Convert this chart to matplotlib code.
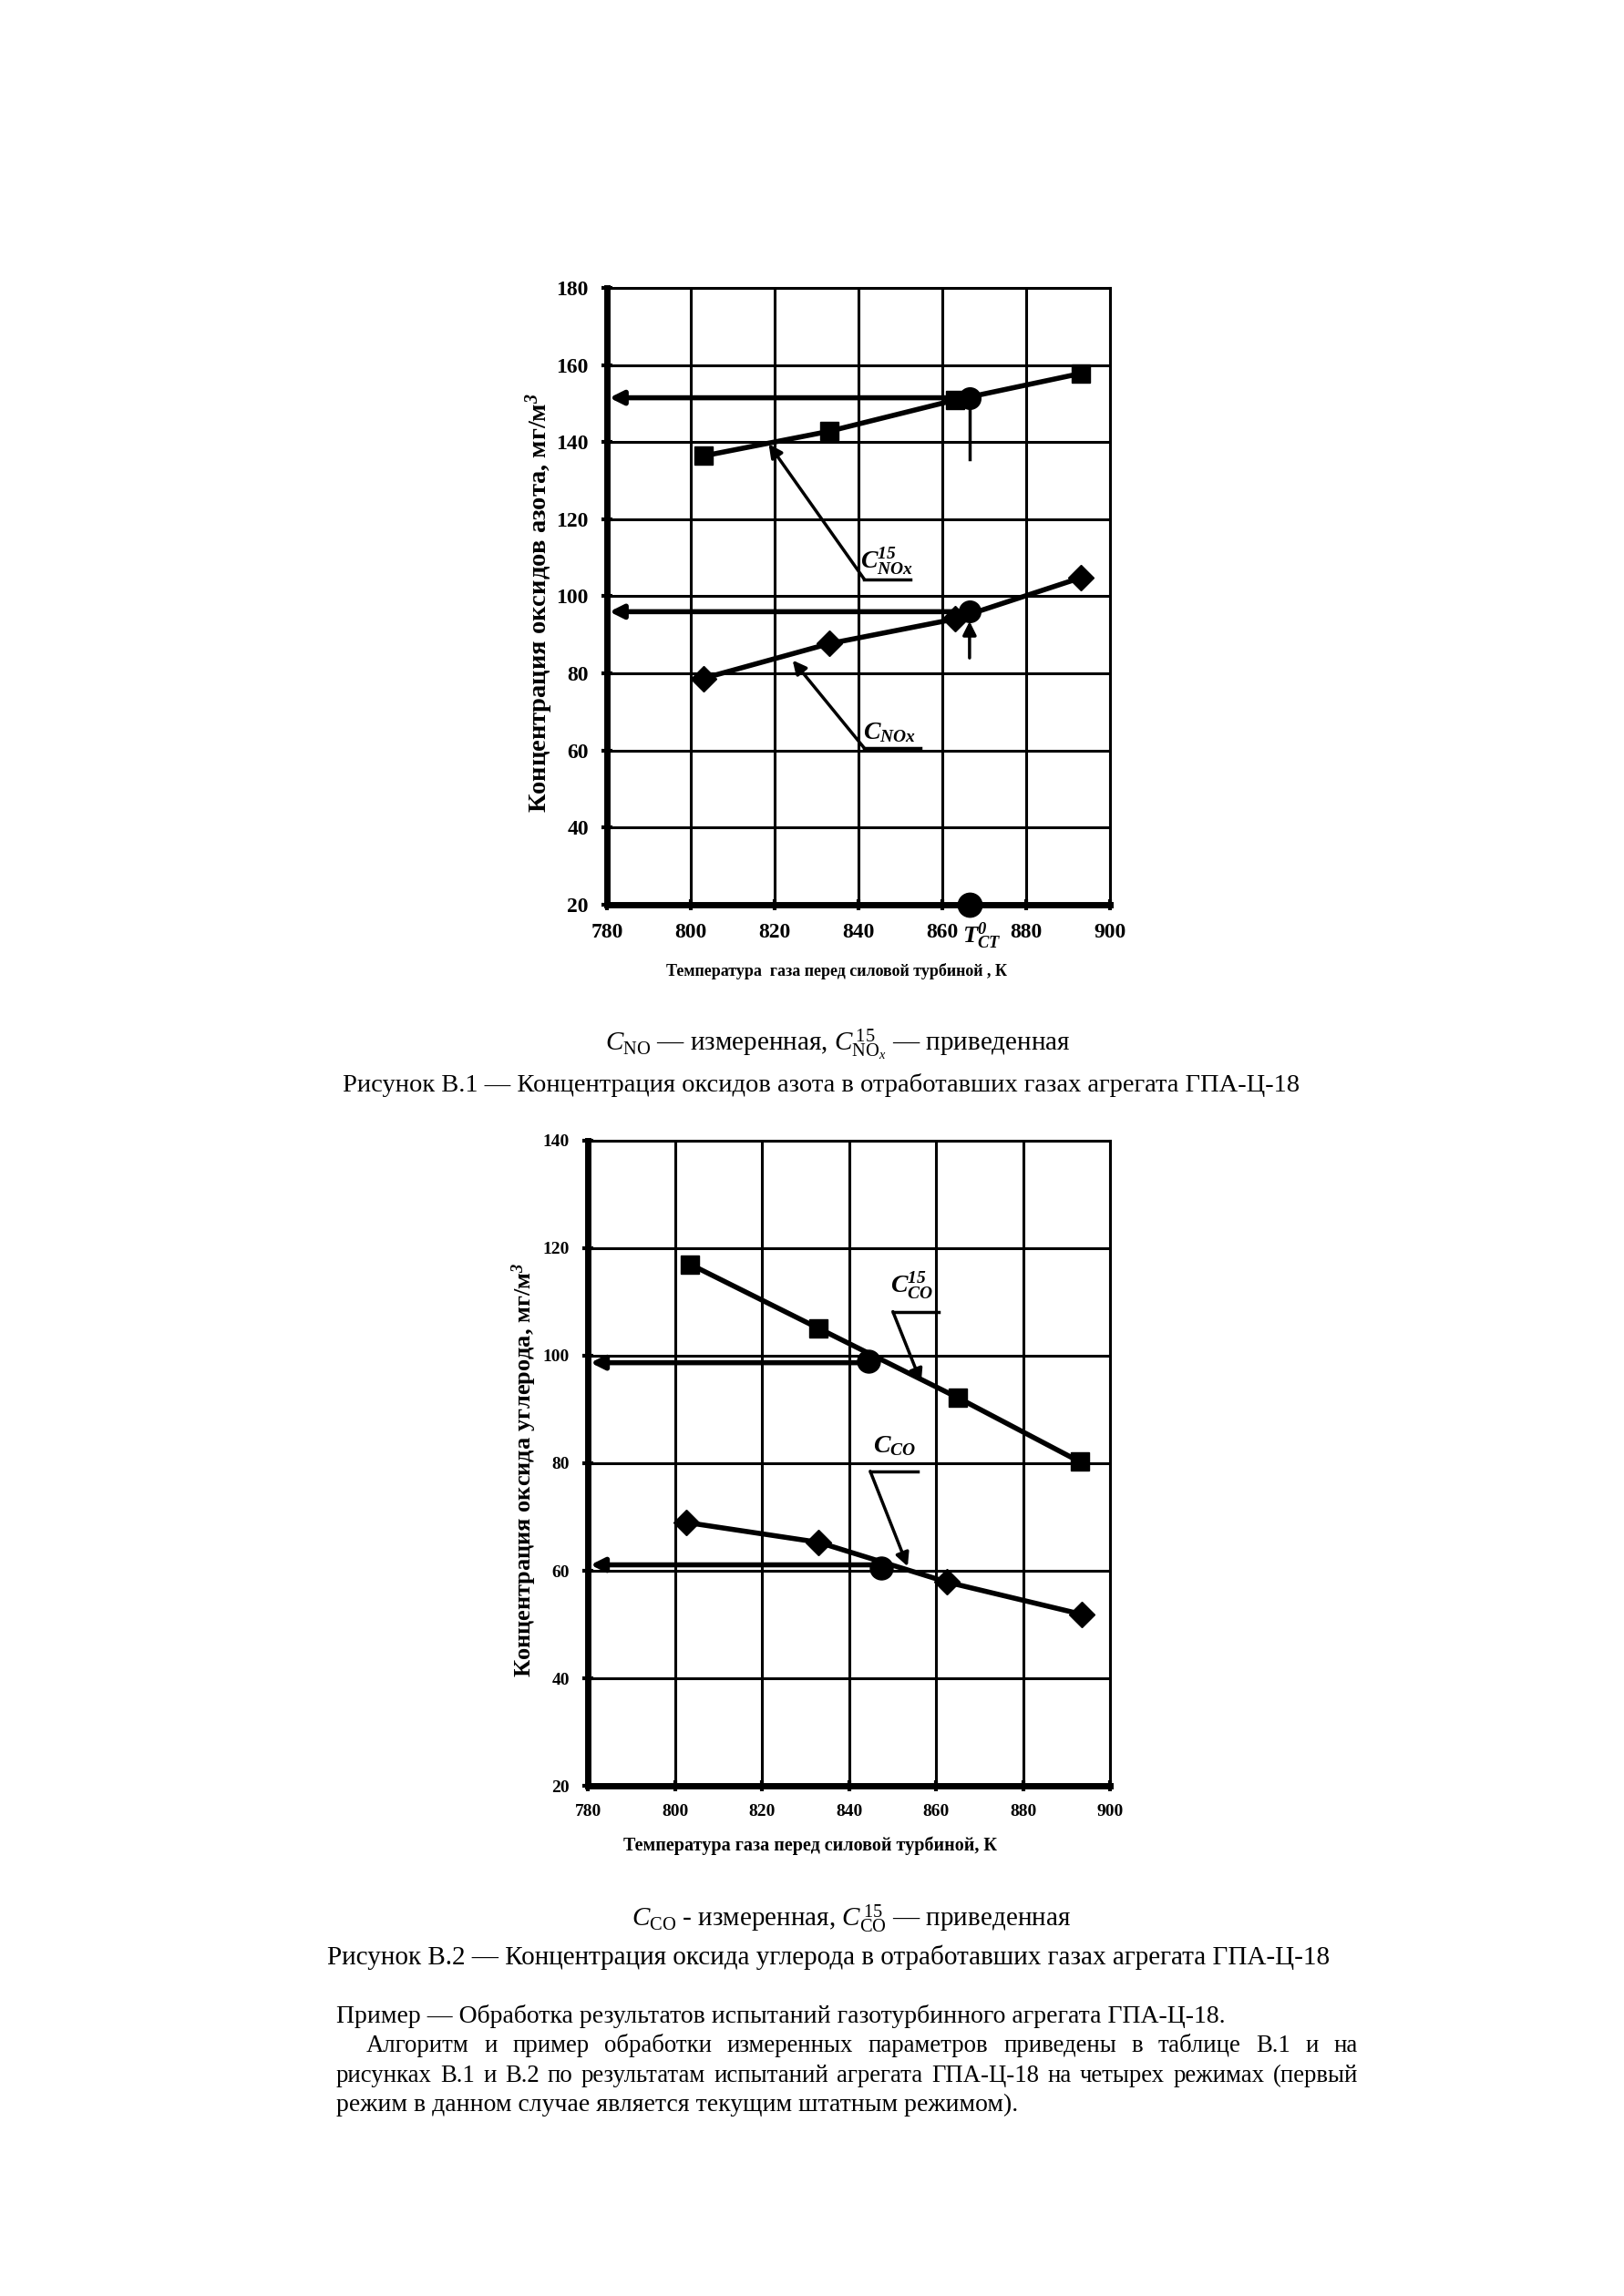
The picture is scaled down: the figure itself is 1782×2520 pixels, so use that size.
import matplotlib
matplotlib.use("Agg")
import matplotlib.pyplot as plt

plt.rcParams['font.family'] = ['Liberation Serif', 'DejaVu Serif']
plt.rcParams['mathtext.fontset'] = 'custom'
plt.rcParams['mathtext.rm'] = 'Liberation Serif'
plt.rcParams['mathtext.it'] = 'Liberation Serif:italic'
plt.rcParams['mathtext.bf'] = 'Liberation Serif:bold:italic'

# --- рисунок В.1: оксиды азота ---
nox_t = [803, 833, 863, 893]
nox_measured = [78.7, 87.7, 94.1, 104.8]
nox_reduced = [136.4, 142.8, 150.9, 157.8]
nox_t0 = 866.5
nox_measured_t0 = 96.0
nox_reduced_t0 = 151.5

# --- рисунок В.2: оксид углерода ---
co_t_measured = [802.5, 833, 862.5, 893.5]
co_measured = [69.0, 65.3, 57.9, 51.9]
co_t_reduced = [803.5, 833, 865, 893]
co_reduced = [117.0, 105.1, 92.2, 80.3]
co_t0_measured = 847.5
co_measured_t0 = 60.5
co_t0_reduced = 844.5
co_reduced_t0 = 99.0

x_ticks = [780, 800, 820, 840, 860, 880, 900]
nox_y_ticks = [20, 40, 60, 80, 100, 120, 140, 160, 180]
co_y_ticks = [20, 40, 60, 80, 100, 120, 140]

xlabel1 = "Температура  газа перед силовой турбиной , К"
xlabel2 = "Температура газа перед силовой турбиной, К"
ylabel1 = "Концентрация оксидов азота, мг/м$^\\mathbf{3}$"
ylabel2 = "Концентрация оксида углерода, мг/м$^\\mathbf{3}$"

LW = 4.0
ARR = dict(arrowstyle='-|>', color='black', lw=2.5, mutation_scale=22,
           shrinkA=0, shrinkB=0)

fig = plt.figure(figsize=(17.82, 25.2), dpi=100)


def setup(ax, yticks, tsize):
    ax.set_xlim(780, 900)
    ax.set_ylim(yticks[0], yticks[-1])
    ax.set_xticks(x_ticks)
    ax.set_yticks(yticks)
    ax.grid(True, which='major', color='black', lw=2.2)
    for s in ['top', 'right']:
        ax.spines[s].set_linewidth(2.2)
    for s in ['left', 'bottom']:
        ax.spines[s].set_linewidth(5)
    ax.tick_params(which='major', direction='inout', length=9, width=3,
                   labelsize=tsize, pad=10)
    for lab in ax.get_xticklabels() + ax.get_yticklabels():
        lab.set_fontweight('bold')


def label_leader(ax, txt, txy, u0, u1, uy, target, size):
    ax.text(txy[0], txy[1], txt, ha='center', va='center', fontsize=size)
    ax.plot([u0, u1], [uy, uy], color='black', lw=2.5)
    ax.annotate('', xy=target, xytext=(u0, uy), arrowprops=ARR)


# ---------------- Рисунок В.1 ----------------
ax1 = fig.add_axes([0.3737, 0.6060, 0.3098, 0.2686])
setup(ax1, nox_y_ticks, 17)
ax1.set_xticks([869.5], labels=[r"$\mathbf{T^{0}_{CT}}$"], minor=True)
ax1.tick_params(which='minor', length=0, labelsize=19, pad=13)

ax1.plot(nox_t, nox_reduced, color='black', lw=LW, marker='s', ms=15, zorder=4)
ax1.plot(nox_t, nox_measured, color='black', lw=LW, marker='D', ms=14, zorder=4)
ax1.plot([nox_t0, nox_t0], [nox_reduced_t0, 135.5], color='black', lw=2.5)
ax1.annotate('', xy=(nox_t0, nox_measured_t0 - 2.5), xytext=(nox_t0, 84),
             arrowprops=ARR)
ax1.annotate('', xy=(780.6, nox_reduced_t0), xytext=(nox_t0, nox_reduced_t0),
             arrowprops=dict(ARR, lw=LW))
ax1.annotate('', xy=(780.6, nox_measured_t0), xytext=(nox_t0, nox_measured_t0),
             arrowprops=dict(ARR, lw=LW))
ax1.plot([nox_t0, nox_t0], [nox_reduced_t0, nox_measured_t0], ls='none',
         marker='o', ms=17, color='black', zorder=5)
ax1.plot([nox_t0], [20], marker='o', ms=19, color='black', clip_on=False, zorder=6)

label_leader(ax1, r"$\mathbf{C^{15}_{NOx}}$", (846.8, 109), 841.4, 852.4, 104.4,
             (818.6, 139.5), 20)
label_leader(ax1, r"$\mathbf{C_{NOx}}$", (847.5, 64.5), 841.4, 854.8, 60.6,
             (824.3, 83.4), 20)

ax1.set_xlabel(xlabel1, fontsize=13, fontweight='bold')
ax1.xaxis.set_label_coords(0.457, -0.094)
ax1.set_ylabel(ylabel1, fontsize=20.5, fontweight='bold')
ax1.yaxis.set_label_coords(-0.103, 0.49)

fig.text(0.516, 0.5448, r"$\mathit{C}_{\mathrm{NO}}$ — измеренная, "
         r"$\mathit{C}^{\,15}_{\mathrm{NO}_x}$ — приведенная",
         ha='center', va='center', fontsize=21)
fig.text(0.5055, 0.5274, "Рисунок В.1 — Концентрация оксидов азота в "
         "отработавших газах агрегата ГПА-Ц-18",
         ha='center', va='center', fontsize=20.5)

# ---------------- Рисунок В.2 ----------------
ax2 = fig.add_axes([0.362, 0.2222, 0.3215, 0.2810])
setup(ax2, co_y_ticks, 14)

ax2.plot(co_t_reduced, co_reduced, color='black', lw=LW, marker='s', ms=15, zorder=4)
ax2.plot(co_t_measured, co_measured, color='black', lw=LW, marker='D', ms=14, zorder=4)
ax2.annotate('', xy=(780.6, co_reduced_t0 - 0.3), xytext=(co_t0_reduced, co_reduced_t0 - 0.3),
             arrowprops=dict(ARR, lw=LW))
ax2.annotate('', xy=(780.6, co_measured_t0 + 0.6), xytext=(co_t0_measured, co_measured_t0 + 0.6),
             arrowprops=dict(ARR, lw=LW))
ax2.plot([co_t0_reduced], [co_reduced_t0], marker='o', ms=18, color='black', zorder=5)
ax2.plot([co_t0_measured], [co_measured_t0], marker='o', ms=18, color='black', zorder=5)

label_leader(ax2, r"$\mathbf{C^{15}_{CO}}$", (854.5, 113), 850.1, 860.6, 108.2,
             (856.6, 95.0), 20)
label_leader(ax2, r"$\mathbf{C_{CO}}$", (850.5, 83.2), 844.9, 855.8, 78.5,
             (853.5, 60.8), 20)

ax2.set_xlabel(xlabel2, fontsize=14.5, fontweight='bold')
ax2.xaxis.set_label_coords(0.426, -0.079)
ax2.set_ylabel(ylabel2, fontsize=19, fontweight='bold')
ax2.yaxis.set_label_coords(-0.094, 0.49)

fig.text(0.524, 0.1643, r"$\mathit{C}_{\mathrm{CO}}$ - измеренная, "
         r"$\mathit{C}^{\,15}_{\mathrm{CO}}$ — приведенная",
         ha='center', va='center', fontsize=21)
fig.text(0.510, 0.1476, "Рисунок В.2 — Концентрация оксида углерода в "
         "отработавших газах агрегата ГПА-Ц-18",
         ha='center', va='center', fontsize=21)

# ---------------- текст ----------------
renderer = fig.canvas.get_renderer()
W = fig.get_figwidth() * fig.dpi


def justify(line, x0, x1, y, size):
    words = line.split()
    texts = [fig.text(x0, y, w, ha='left', va='center', fontsize=size) for w in words]
    widths = [t.get_window_extent(renderer).width / W for t in texts]
    gap = (x1 - x0 - sum(widths)) / (len(words) - 1)
    x = x0
    for t, w in zip(texts, widths):
        t.set_x(x)
        x += w + gap


fig.text(0.207, 0.1218, "Пример — Обработка результатов испытаний газотурбинного "
         "агрегата ГПА-Ц-18.", ha='left', va='center', fontsize=20)
justify("Алгоритм и пример обработки измеренных параметров приведены в таблице В.1 и на",
        0.2256, 0.836, 0.1091, 19.3)
justify("рисунках В.1 и В.2 по результатам испытаний агрегата ГПА-Ц-18 на четырех режимах (первый",
        0.207, 0.836, 0.0960, 19.3)
fig.text(0.207, 0.0833, "режим в данном случае является текущим штатным режимом).",
         ha='left', va='center', fontsize=20)

fig.savefig("out.png", dpi=100, facecolor='white')
